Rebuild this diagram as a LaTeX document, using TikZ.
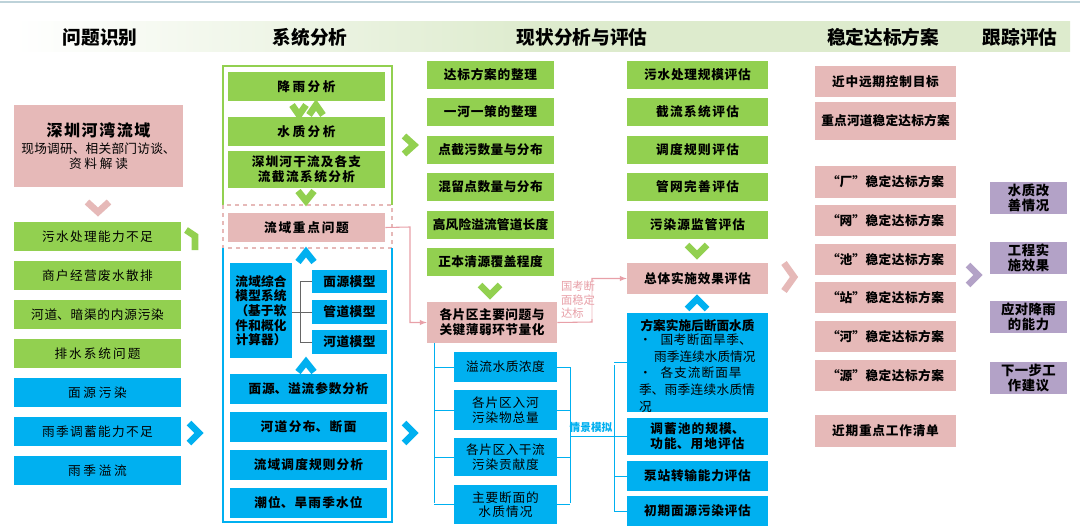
\documentclass[tikz,border=0pt]{standalone}
\usepackage{fontspec}
\setmainfont{Noto Sans CJK SC}
\XeTeXlinebreaklocale "zh"
\XeTeXlinebreakskip=0pt plus 1pt
\definecolor{gr}{HTML}{92D050}
\definecolor{bl}{HTML}{00B0F0}
\definecolor{pk}{HTML}{E6B9B8}
\definecolor{pu}{HTML}{B3A2C7}
\definecolor{pkl}{HTML}{E8A0A8}
\definecolor{hd}{HTML}{DDEBCD}
\tikzset{
  bx/.style={rectangle,inner sep=1pt,align=center,font=\fontsize{9.5}{11}\selectfont\bfseries},
  chev/.style={line width=5pt,line join=miter,miter limit=4},
  brk/.style={draw=bl,line width=0.6pt},
}
\newcommand\mybox[7]{\node[bx,#1,minimum width={(#5-#3)*0.75pt},minimum height={(#6-#4)*0.75pt},text width={(#5-#3)*0.75pt-4pt}] (#2) at ({(#3+#5)/2},{(#4+#6)/2}) {#7};}
\newcommand\chr[4]{\draw[chev,#1] (#2-5,#3-#4) -- (#2+5,#3) -- (#2-5,#3+#4);}
\newcommand\chd[4]{\draw[chev,#1] (#2-#4,#3-5) -- (#2,#3+5) -- (#2+#4,#3-5);}
\newcommand\chu[4]{\draw[chev,#1] (#2-#4,#3+5) -- (#2,#3-5) -- (#2+#4,#3+5);}
\begin{document}
\begin{tikzpicture}[x=0.75pt,y=-0.75pt]
\useasboundingbox (0,0) rectangle (1080,528);
\fill[white] (0,0) rectangle (1080,528);
\draw[color=bl!30!gray!40,line width=1.5pt] (0,2) -- (1080,2);
\shade[left color=white,right color=hd,middle color=hd] (14,22) rectangle (1070,52);
\foreach \t/\x in {问题识别/100,系统分析/310,现状分析与评估/582,稳定达标方案/883,跟踪评估/1020}
  {\node[font=\fontsize{14}{16}\selectfont\bfseries] (h\x) at (\x,37) {\t};}
% column 1
\mybox{fill=pk}{c1a}{14}{105}{183}{187}{{\fontsize{12}{14}\selectfont 深圳河湾流域}\\[2pt]{\mdseries 现场调研、相关部门访谈、\\资料解读}}
\chd{pk}{98}{207}{11}
\foreach \t/\y [count=\i] in {污水处理能力不足/222,商户经营废水散排/261,河道、暗渠的内源污染/300,排水系统问题/339}
  {\mybox{fill=gr,font=\fontsize{9.5}{11}\selectfont}{g\i}{14}{\y}{181}{\y+29}{\t}}
\foreach \t/\y [count=\i] in {面源污染/378,雨季调蓄能力不足/417,雨季溢流/456}
  {\mybox{fill=bl,font=\fontsize{9.5}{11}\selectfont}{b\i}{14}{\y}{181}{\y+29}{\t}}
\draw[chev,gr] (186,230) -- (195,236) -- (195,250);
\chr{bl}{194}{433}{10}
% column 2
\draw[gr,line width=0.8pt] (223,205) -- (223,66) -- (392,66) -- (392,205);
\draw[pk,dashed,line width=0.8pt] (223,205) rectangle (392,248);
\draw[bl,line width=0.8pt] (223,248) -- (223,522) -- (392,522) -- (392,248);
\mybox{fill=gr}{s1}{228}{72}{385}{101}{降雨分析}
\chd{gr}{299}{110}{7}\chu{gr}{316}{110}{7}
\mybox{fill=gr}{s2}{228}{117}{385}{146}{水质分析}
\mybox{fill=gr}{s3}{228}{151}{385}{188}{深圳河干流及各支流截流系统分析}
\chd{gr}{306}{196}{8}
\mybox{fill=pk}{s4}{228}{213}{385}{242}{流域重点问题}
\chu{bl}{306}{257}{8}
\mybox{fill=bl}{s5}{230}{263}{292}{358}{\raggedright 流域综合模型系统（基于软件和概化计算器）}
\mybox{fill=bl}{m1}{312}{270}{387}{293}{面源模型}
\mybox{fill=bl}{m2}{312}{300}{387}{324}{管道模型}
\mybox{fill=bl}{m3}{312}{330}{387}{354}{河道模型}
\coordinate (mk) at (300,312);
\draw[brk,draw=black!60] (m1.west) -| (300,342) -- (m3.west);
\draw[brk,draw=black!60] (s5.east|-mk) -- (m2.west);
\chu{bl}{306}{367}{8}
\mybox{fill=bl}{s6}{230}{374}{387}{404}{面源、溢流参数分析}
\mybox{fill=bl}{s7}{230}{412}{387}{442}{河道分布、断面}
\mybox{fill=bl}{s8}{230}{450}{387}{480}{流域调度规则分析}
\mybox{fill=bl}{s9}{230}{488}{387}{518}{潮位、旱雨季水位}
\chr{gr}{409}{145}{9}
\chr{bl}{409}{433}{10}
% column 3a
\foreach \t/\y [count=\i] in {达标方案的整理/61,一河一策的整理/98,点截污数量与分布/136,混留点数量与分布/173,高风险溢流管道长度/211,正本清源覆盖程度/248}
  {\mybox{fill=gr}{a\i}{427}{\y}{554}{\y+28}{\t}}
\chd{gr}{490}{290}{10}
\mybox{fill=pk}{p1}{427}{302}{557}{343}{各片区主要问题与关键薄弱环节量化}
\mybox{fill=bl,font=\fontsize{9.5}{11}\selectfont}{q1}{454}{352}{557}{382}{溢流水质浓度}
\mybox{fill=bl,font=\fontsize{9.5}{11}\selectfont}{q2}{454}{390}{557}{430}{各片区入河污染物总量}
\mybox{fill=bl,font=\fontsize{9.5}{11}\selectfont}{q3}{454}{438}{557}{476}{各片区入干流污染贡献度}
\mybox{fill=bl,font=\fontsize{9.5}{11}\selectfont}{q4}{454}{485}{557}{524}{主要断面的水质情况}
\draw[brk] (434,343) -- (434,503);
\foreach \i in {1,...,4} {\draw[brk] (434,0 |- q\i.west) -- (q\i.west);}
\draw[brk] (570,367) -- (570,503);
\foreach \i in {1,...,4} {\draw[brk] (q\i.east) -- (570,0 |- q\i.east);}
% column 3b
\foreach \t/\y [count=\i] in {污水处理规模评估/61,截流系统评估/98,调度规则评估/136,管网完善评估/173,污染源监管评估/211}
  {\mybox{fill=gr}{e\i}{627}{\y}{768}{\y+28}{\t}}
\chd{gr}{697}{250}{10}
\mybox{fill=pk}{t1}{627}{263}{768}{294}{总体实施效果评估}
\chu{bl}{697}{304}{10}
\node[fill=bl,minimum width={141*0.75pt},minimum height={99*0.75pt},inner sep=0] (r1) at (697.5,362.5) {};
\node[font=\fontsize{9.5}{11}\selectfont\bfseries] (r1t) at (697.5,326) {方案实施后断面水质};
\node[font=\fontsize{9.5}{12.5}\selectfont,text width={122*0.75pt},align=left] (r1b) at (700,373) {\hangindent=1.2em\hangafter=1 •\hspace{0.7em}国考断面旱季、雨季连续水质情况\par\hangindent=1.2em\hangafter=1 •\hspace{0.7em}各支流断面旱季、雨季连续水质情况};
\mybox{fill=bl}{r2}{627}{418}{768}{455}{调蓄池的规模、功能、用地评估}
\mybox{fill=bl}{r3}{627}{461}{768}{491}{泵站转输能力评估}
\mybox{fill=bl}{r4}{627}{496}{768}{526}{初期面源污染评估}
\draw[brk] (614,365) -- (614,511);
\foreach \n in {r1,r2,r3,r4} {\draw[brk] (614,0 |- \n.west) -- (\n.west);}
\coordinate (qm) at (570,436);
\draw[brk] (qm) -- (614,436);
\node[font=\fontsize{8}{9}\selectfont\bfseries,text=bl] (qj) at (591,427) {情景模拟};
% pink connectors
\draw[pkl,line width=0.8pt,-latex] (s4.east) -- (410,227) |- (p1.west);
\draw[pkl,line width=0.8pt,-latex] (p1.east) -- (592,322) |- (t1.west);
\node[font=\fontsize{8.5}{10}\selectfont,text=pkl,align=left,inner sep=0,fill=white,fill opacity=0.6,text opacity=1] (gk) at (578,300) {国考断\\面稳定\\达标};
\chr{pk}{789}{277}{14}
% column 4
\foreach \t/\y/\h [count=\i] in {近中远期控制目标/66/31,重点河道稳定达标方案/102/38,“厂”稳定达标方案/166/32,“网”稳定达标方案/205/31,“池”稳定达标方案/244/31,“站”稳定达标方案/282/31,“河”稳定达标方案/321/31,“源”稳定达标方案/360/31,近期重点工作清单/415/32}
  {\mybox{fill=pk}{f\i}{815}{\y}{956}{\y+\h}{\t}}
\chr{pu}{973}{275}{10}
\foreach \t/\y [count=\i] in {水质改善情况/182,工程实施效果/242,应对降雨的能力/301,下一步工作建议/362}
  {\mybox{fill=pu,font=\fontsize{10}{11}\selectfont\bfseries}{k\i}{990}{\y}{1067}{\y+32}{\t}}
\end{tikzpicture}
\end{document}
